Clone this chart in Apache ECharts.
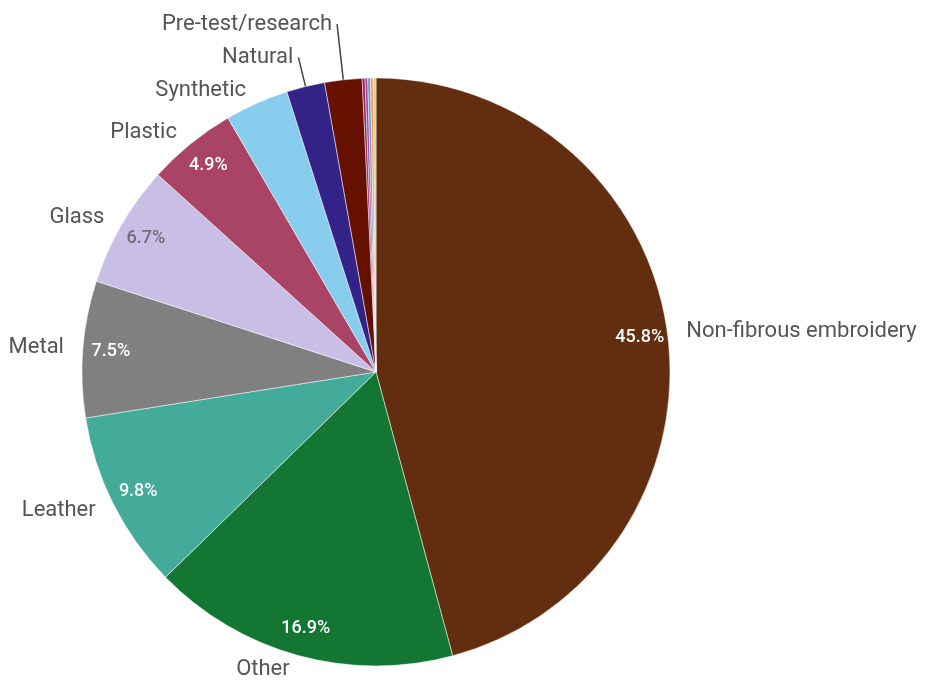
<!DOCTYPE html>
<html>
<head>
<meta charset="utf-8">
<script src="https://cdn.jsdelivr.net/npm/echarts@6/dist/echarts.min.js"></script>
<style>
  html, body { margin: 0; padding: 0; background: #fff; }
  #chart { width: 925px; height: 680px; }
</style>
</head>
<body>
<div id="chart"></div>
<script>
// datos (porcentajes)
const categorias = ['Non-fibrous embroidery', 'Other', 'Leather', 'Metal', 'Glass', 'Plastic',
    'Synthetic', 'Natural', 'Pre-test/research', 'Cat. 10', 'Cat. 11', 'Cat. 12', 'Cat. 13', 'Cat. 14'];
const valores = [45.8, 16.9, 9.8, 7.5, 6.7, 4.9, 3.5, 2.1, 2.05, 0.15, 0.15, 0.15, 0.15, 0.15];
const colores = ['#632D10', '#137733', '#44AA99', '#808080', '#C8BEE6', '#AA4466',
    '#88CCEE', '#332288', '#661100', '#882255', '#AA4499', '#6699CC', '#EE9966', '#DDCC77'];
// solo estas muestran el nombre fuera
const conNombre = 9;
// solo estas muestran el porcentaje dentro
const conPorcentaje = 6;

const centro = [376, 372];
const radio = 294;

const chart = echarts.init(document.getElementById('chart'));

// serie 1: el pastel con los nombres fuera
const datosNombres = categorias.map((c, i) => {
    const item = {
        name: c,
        value: valores[i],
        itemStyle: { color: colores[i] },
        label: { show: i < conNombre }
    };
    if (c === 'Natural') {
        item.labelLine = { show: true, length: 30, length2: 0 };
        item.label.verticalAlign = 'bottom';
        item.label.padding = [0, 0, 3, 0];
    }
    if (c === 'Pre-test/research') {
        item.labelLine = { show: true, length: 56, length2: 0 };
        item.label.verticalAlign = 'bottom';
        item.label.padding = [0, 0, 3, 0];
    }
    return item;
});

// serie 2: anillo transparente solo para poner los porcentajes cerca del borde
const datosPct = categorias.map((c, i) => ({
    name: c,
    value: valores[i],
    label: {
        show: i < conPorcentaje,
        color: c === 'Glass' ? '#6f6f78' : '#ffffff'
    }
}));

const option = {
    backgroundColor: '#ffffff',
    animation: false,
    series: [
        {
            name: 'Material',
            type: 'pie',
            center: centro,
            radius: radio,
            startAngle: 90,
            clockwise: true,
            avoidLabelOverlap: false,
            itemStyle: { borderColor: '#ffffff', borderWidth: 0.5 },
            label: {
                position: 'outside',
                formatter: '{b}',
                fontFamily: 'Roboto',
                fontSize: 22,
                color: '#555555'
            },
            labelLine: { show: false, length: 14, length2: 0, lineStyle: { color: '#444444', width: 1.5 } },
            data: datosNombres
        },
        {
            name: 'Porcentaje',
            type: 'pie',
            center: centro,
            radius: [232, radio],
            startAngle: 90,
            clockwise: true,
            silent: true,
            avoidLabelOverlap: false,
            itemStyle: { color: 'rgba(0,0,0,0)' },
            label: {
                position: 'inside',
                formatter: '{c}%',
                fontFamily: 'Roboto',
                fontSize: 18,
                fontWeight: 500
            },
            labelLine: { show: false },
            data: datosPct
        }
    ]
};

chart.setOption(option);
</script>
</body>
</html>
